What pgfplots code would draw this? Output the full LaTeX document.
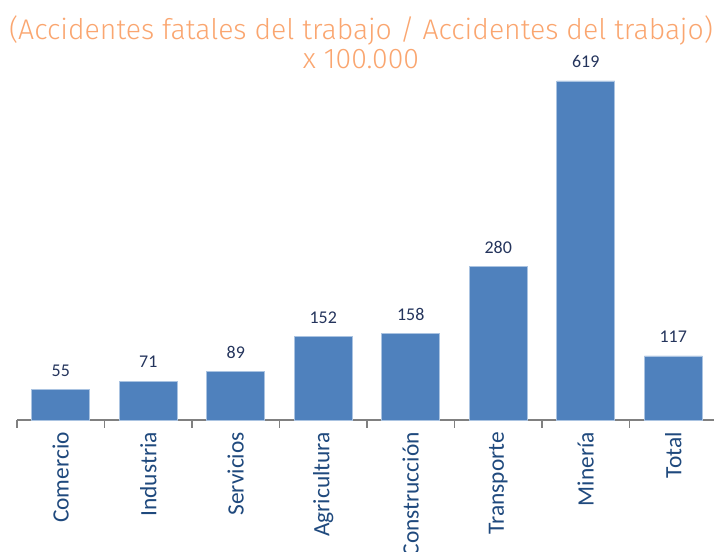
\documentclass[border=0pt]{standalone}
\usepackage{pgfplots}
\pgfplotsset{compat=1.18}
\usepackage{fontspec}
\setmainfont{Carlito}
\newfontfamily\titlefont{Fira Sans Light}
\definecolor{barblue}{RGB}{79,129,189}
\definecolor{baredge}{RGB}{170,195,225}
\definecolor{titleorange}{RGB}{250,166,112}
\definecolor{labelblue}{RGB}{31,73,125}
\definecolor{valcolor}{RGB}{36,52,92}
\definecolor{axisgray}{RGB}{128,128,128}
\begin{document}
\begin{tikzpicture}[x=1bp,y=1bp]
\useasboundingbox (0,0) rectangle (714,552);
\node[font=\titlefont\fontsize{28.5}{29}\selectfont, text=titleorange, align=center] at (361,510) {(Accidentes fatales del trabajo / Accidentes del trabajo)\\x 100.000};
\begin{axis}[
  at={(17bp,132bp)}, anchor=south west,
  scale only axis, width=700bp, height=383.4bp,
  xmin=-0.5, xmax=7.5, ymin=0, ymax=700,
  axis x line=bottom, axis y line=none,
  x axis line style={-, draw=axisgray, line width=1.3bp},
  ytick=\empty,
  xtick={0,1,2,3,4,5,6,7},
  xticklabels={Comercio,Industria,Servicios,Agricultura,Construcción,Transporte,Minería,Total},
  major tick length=0pt,
  x tick label style={rotate=90, anchor=east, font=\fontsize{23.5}{25}\selectfont, text=labelblue, inner sep=0pt, xshift=-12bp},
  extra x ticks={-0.5,0.5,1.5,2.5,3.5,4.5,5.5,6.5,7.5},
  extra x tick labels={},
  extra x tick style={tick align=outside, major tick length=8bp, tick style={draw=axisgray, line width=1.3bp}},
  ybar, bar width=58bp,
  /pgf/number format/assume math mode=true,
  nodes near coords,
  every node near coord/.append style={font=\fontsize{18}{19}\selectfont, text=valcolor, anchor=center, yshift=19bp},
  clip=false,
]
\addplot[fill=barblue, draw=baredge, line width=0.8bp] coordinates {(0,55) (1,71) (2,89) (3,152) (4,158) (5,280) (6,619) (7,117)};
\end{axis}
\end{tikzpicture}
\end{document}
